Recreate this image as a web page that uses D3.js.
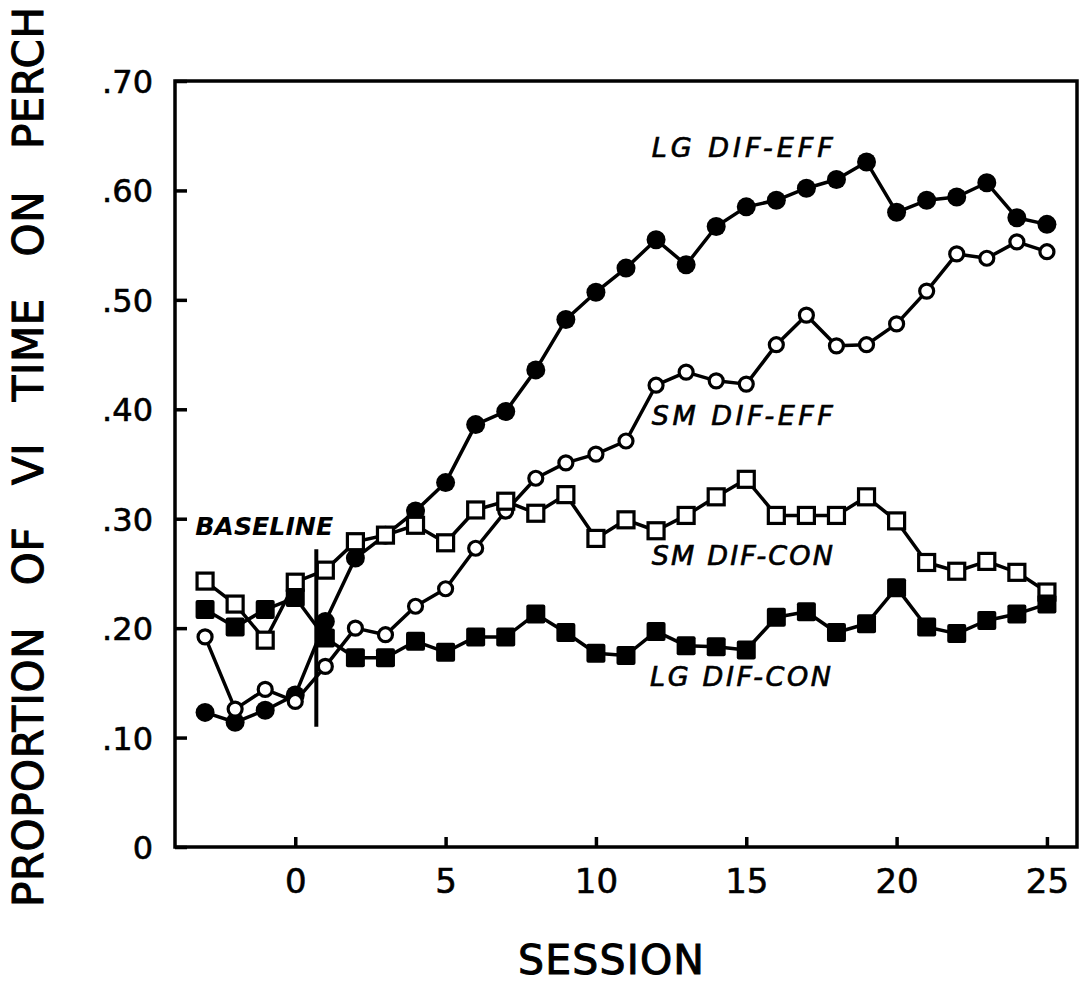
<!DOCTYPE html>
<html>
<head>
<meta charset="utf-8">
<script src="https://cdn.jsdelivr.net/npm/d3@7"></script>
<style>
  html, body { margin: 0; padding: 0; background: #fff; }
  text { font-family: "DejaVu Sans", "Liberation Sans", sans-serif; fill: #000; }
</style>
</head>
<body>
<svg id="graphic-container" width="1083" height="984"></svg>
<script>
const sessions = d3.range(-3, 26);
const lgDifEff = [0.123, 0.114, 0.125, 0.139, 0.206, 0.264, 0.285, 0.307, 0.333, 0.386,
  0.398, 0.436, 0.482, 0.507, 0.529, 0.555, 0.532, 0.567, 0.585, 0.591,
  0.602, 0.610, 0.626, 0.580, 0.591, 0.594, 0.607, 0.575, 0.569];
const smDifEff = [0.192, 0.126, 0.144, 0.133, 0.165, 0.200, 0.194, 0.220, 0.236, 0.273,
  0.307, 0.337, 0.351, 0.359, 0.371, 0.422, 0.434, 0.426, 0.423, 0.459,
  0.486, 0.458, 0.459, 0.478, 0.508, 0.542, 0.538, 0.553, 0.544];
const smDifCon = [0.243, 0.222, 0.189, 0.242, 0.253, 0.279, 0.285, 0.294, 0.278, 0.308,
  0.316, 0.305, 0.322, 0.282, 0.299, 0.289, 0.303, 0.320, 0.336, 0.303,
  0.303, 0.303, 0.320, 0.298, 0.260, 0.252, 0.261, 0.251, 0.233];
const lgDifCon = [0.217, 0.201, 0.217, 0.228, 0.191, 0.173, 0.173, 0.188, 0.178, 0.192,
  0.192, 0.213, 0.196, 0.177, 0.175, 0.197, 0.184, 0.183, 0.180, 0.210,
  0.215, 0.196, 0.204, 0.237, 0.201, 0.195, 0.207, 0.213, 0.222];

const seriesNames = ["LG DIF-EFF", "SM DIF-EFF", "SM DIF-CON", "LG DIF-CON"];
const seriesValues = [lgDifEff, smDifEff, smDifCon, lgDifCon];
const seriesMarkers = ["filledCircle", "openCircle", "openSquare", "filledSquare"];
// label anchors in data units (session, proportion)
const labelSession = [11.86, 11.86, 11.86, 11.8];
const labelProp = [0.6305, 0.3856, 0.2577, 0.1471];

const xTicks = [0, 5, 10, 15, 20, 25];
const yTicks = [0, 0.1, 0.2, 0.3, 0.4, 0.5, 0.6, 0.7];
const yTickLabels = ["0", ".10", ".20", ".30", ".40", ".50", ".60", ".70"];
const baselineSession = 0.7, baselineRange = [0.110, 0.272];

const padding = { top: 81, bottom: 137, left: 175, right: 6 };
const W = 1083, H = 984;

const $svg = d3.select("#graphic-container");
const x = d3.scaleLinear().domain([-4, 26]).range([padding.left, W - padding.right]);
const y = d3.scaleLinear().domain([0, 0.7]).range([H - padding.bottom, padding.top]);

// axes, ticks point into the plot
const yAxis = $svg.append("g")
  .attr("transform", `translate(${padding.left},0)`)
  .call(d3.axisLeft(y).tickValues(yTicks).tickSize(-12).tickPadding(22)
    .tickFormat((d, i) => yTickLabels[i]));
yAxis.select(".domain").remove();
yAxis.selectAll(".tick line").attr("stroke", "#000").attr("stroke-width", 3.5);
yAxis.selectAll(".tick text")
  .attr("font-size", 32).attr("dy", "0.36em")
  .attr("stroke", "#000").attr("stroke-width", 0.6)
  .style("font-family", "'DejaVu Sans', sans-serif");

const xAxis = $svg.append("g")
  .attr("transform", `translate(0,${H - padding.bottom})`)
  .call(d3.axisBottom(x).tickValues(xTicks).tickSize(-10).tickPadding(0));
xAxis.select(".domain").remove();
xAxis.selectAll(".tick line").attr("stroke", "#000").attr("stroke-width", 3.5);
xAxis.selectAll(".tick text")
  .attr("font-size", 34).attr("y", 46).attr("dy", 0)
  .attr("stroke", "#000").attr("stroke-width", 0.6)
  .style("font-family", "'DejaVu Sans', sans-serif");

// frame
$svg.append("rect")
  .attr("x", x(-4)).attr("y", y(0.7))
  .attr("width", x(26) - x(-4)).attr("height", y(0) - y(0.7))
  .attr("fill", "none").attr("stroke", "#000").attr("stroke-width", 3.5);

// baseline divider
$svg.append("line")
  .attr("x1", x(baselineSession)).attr("x2", x(baselineSession))
  .attr("y1", y(baselineRange[0])).attr("y2", y(baselineRange[1]))
  .attr("stroke", "#000").attr("stroke-width", 4);

$svg.append("text")
  .text("BASELINE")
  .attr("x", x(-3.33)).attr("y", y(0.2851))
  .attr("font-size", 25).attr("font-weight", "bold").attr("font-style", "italic")
  .attr("textLength", 138).attr("lengthAdjust", "spacingAndGlyphs");

// series lines
const line = d3.line().x((d, i) => x(sessions[i])).y(d => y(d));
const lineGroup = $svg.append("g");
seriesValues.forEach(vals => {
  lineGroup.append("path")
    .attr("d", line(vals))
    .attr("fill", "none").attr("stroke", "#000").attr("stroke-width", 3.5)
    .attr("stroke-linejoin", "round");
});

// markers
const markerGroup = $svg.append("g");
seriesValues.forEach((vals, k) => {
  const m = seriesMarkers[k];
  const g = markerGroup.append("g");
  vals.forEach((v, i) => {
    const cx = x(sessions[i]), cy = y(v);
    if (m == "filledCircle") {
      g.append("circle").attr("cx", cx).attr("cy", cy).attr("r", 9.5).attr("fill", "#000");
    } else if (m == "openCircle") {
      g.append("circle").attr("cx", cx).attr("cy", cy).attr("r", 7)
        .attr("fill", "#fff").attr("stroke", "#000").attr("stroke-width", 3.2);
    } else if (m == "openSquare") {
      g.append("rect").attr("x", cx - 8).attr("y", cy - 8).attr("width", 16).attr("height", 16)
        .attr("fill", "#fff").attr("stroke", "#000").attr("stroke-width", 3.2);
    } else {
      g.append("rect").attr("x", cx - 9.5).attr("y", cy - 9.5).attr("width", 19).attr("height", 19)
        .attr("rx", 2).attr("fill", "#000");
    }
  });
});

// series labels
seriesNames.forEach((name, k) => {
  $svg.append("text")
    .text(name)
    .attr("x", x(labelSession[k])).attr("y", y(labelProp[k]))
    .attr("font-size", 27).attr("font-style", "italic")
    .attr("stroke", "#000").attr("stroke-width", 0.7)
    .attr("textLength", 181).attr("lengthAdjust", "spacing");
});

// axis titles
$svg.append("text")
  .text("PROPORTION   OF   VI   TIME   ON   PERCH")
  .style("white-space", "pre")
  .attr("transform", "translate(43,457) rotate(-90)")
  .attr("text-anchor", "middle")
  .attr("font-size", 42)
  .attr("stroke", "#000").attr("stroke-width", 1)
  .attr("textLength", 900).attr("lengthAdjust", "spacing");

$svg.append("text")
  .text("SESSION")
  .attr("x", 518).attr("y", 974)
  .attr("font-size", 41)
  .attr("stroke", "#000").attr("stroke-width", 1)
  .attr("textLength", 186).attr("lengthAdjust", "spacing");
</script>
</body>
</html>
